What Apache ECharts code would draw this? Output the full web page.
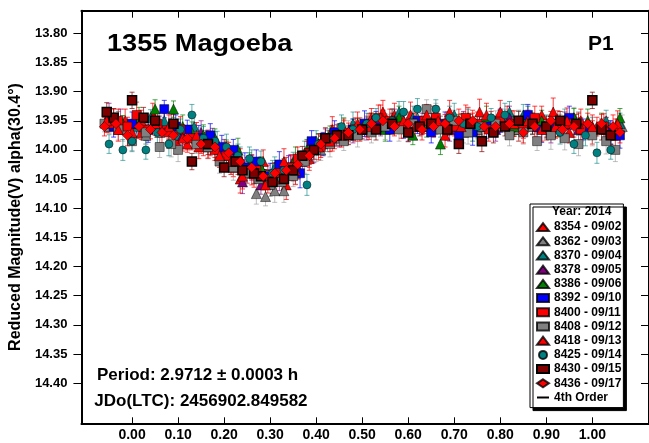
<!DOCTYPE html>
<html><head><meta charset="utf-8">
<script src="https://cdn.jsdelivr.net/npm/echarts@6/dist/echarts.min.js"></script>
<style>html,body{margin:0;padding:0;background:#fff}#c{width:649px;height:443px}</style>
</head><body><div id="c"></div>
<script>
// ---------- data ----------
const titleText = '1355 Magoeba';
const plotId = 'P1';
const periodText = 'Period: 2.9712 \u00b1 0.0003 h';
const jdText = 'JDo(LTC): 2456902.849582';
const yName = 'Reduced Magnitude(V) alpha(30.4\u00b0)';
const legendYear = 'Year: 2014';
const fitName = '4th Order';
const sessionLabels = ['8354 - 09/02','8362 - 09/03','8370 - 09/04','8378 - 09/05','8386 - 09/06','8392 - 09/10','8400 - 09/11','8408 - 09/12','8418 - 09/13','8425 - 09/14','8430 - 09/15','8436 - 09/17'];
const xTicks = [0.0,0.1,0.2,0.3,0.4,0.5,0.6,0.7,0.8,0.9,1.0];
const yTicks = [13.80,13.85,13.90,13.95,14.00,14.05,14.10,14.15,14.20,14.25,14.30,14.35,14.40];

// [phase, reduced mag, error]
const s8354 = [[-0.04,13.945,0.015],[0.02,13.97,0.012],[0.07,13.955,0.018],[0.12,13.99,0.014],[0.17,13.99,0.02],[0.22,14.03,0.016],[0.26,14.04,0.02],[0.31,14.045,0.022],[0.36,14.03,0.02],[0.41,13.99,0.015],[0.46,13.965,0.018],[0.52,13.945,0.016],[0.57,13.94,0.02],[0.63,13.96,0.014],[0.68,13.975,0.02],[0.73,13.945,0.018],[0.78,13.95,0.016],[0.84,13.965,0.02],[0.89,13.94,0.015],[0.95,13.97,0.018],[1.01,13.96,0.016],[1.05,13.975,0.02],
  [0.045,13.94,0.02],[0.095,13.985,0.022],[0.145,13.995,0.02],[0.235,14.05,0.024],[0.285,14.02,0.02],[0.335,14.06,0.025],[0.385,14.015,0.02],[0.435,13.965,0.022],[0.545,13.935,0.02],[0.605,13.94,0.022],[0.655,13.945,0.02],[0.755,13.935,0.022],[0.815,13.945,0.02],[0.915,13.935,0.024],[0.975,13.95,0.02],[-0.015,13.95,0.02]];
const s8362 = [[-0.05,13.96,0.012],[0.03,13.975,0.015],[0.09,13.965,0.014],[0.14,13.98,0.018],[0.19,14.0,0.015],[0.24,14.03,0.02],[0.27,14.075,0.018],[0.29,14.08,0.016],[0.33,14.07,0.02],[0.38,14.01,0.016],[0.44,13.98,0.014],[0.50,13.965,0.018],[0.56,13.955,0.016],[0.62,13.945,0.02],[0.69,13.96,0.015],[0.75,13.965,0.016],[0.81,13.95,0.02],[0.87,13.96,0.014],[0.93,13.955,0.016],[0.99,13.965,0.018],[1.04,13.97,0.02],
  [-0.02,13.965,0.02],[0.06,13.97,0.018],[0.165,13.995,0.02],[0.215,14.02,0.022],[0.31,14.07,0.02],[0.355,14.04,0.02],[0.41,14.0,0.018],[0.47,13.97,0.02],[0.59,13.95,0.018],[0.66,13.94,0.02],[0.72,13.97,0.018],[0.84,13.965,0.02],[0.96,13.945,0.018],[1.065,13.96,0.02]];
const s8370 = [[-0.03,13.95,0.016],[0.04,13.945,0.014],[0.10,13.975,0.016],[0.16,13.985,0.018],[0.21,14.01,0.016],[0.26,14.02,0.02],[0.31,14.03,0.018],[0.35,14.02,0.016],[0.40,13.985,0.018],[0.45,13.97,0.014],[0.51,13.96,0.016],[0.58,13.935,0.018],[0.64,13.95,0.015],[0.70,13.94,0.02],[0.76,13.96,0.016],[0.82,13.935,0.018],[0.88,13.955,0.016],[0.94,13.95,0.02],[1.00,13.96,0.016],[1.06,13.955,0.018],
  [0.01,13.96,0.02],[0.07,13.95,0.018],[0.135,13.96,0.02],[0.185,13.99,0.022],[0.235,14.015,0.02],[0.285,14.04,0.022],[0.375,14.005,0.02],[0.425,13.985,0.018],[0.48,13.955,0.02],[0.545,13.95,0.018],[0.61,13.945,0.02],[0.67,13.96,0.018],[0.73,13.95,0.02],[0.85,13.94,0.018],[0.97,13.955,0.02],[1.03,13.95,0.018]];
const s8378 = [[-0.05,13.94,0.02],[0.01,13.955,0.016],[0.06,13.96,0.018],[0.11,13.975,0.016],[0.15,13.97,0.02],[0.20,14.0,0.018],[0.24,14.055,0.02],[0.28,14.06,0.016],[0.32,14.05,0.02],[0.37,14.02,0.018],[0.42,13.98,0.016],[0.48,13.97,0.018],[0.54,13.96,0.016],[0.60,13.965,0.02],[0.66,13.955,0.018],[0.72,13.95,0.016],[0.79,13.965,0.02],[0.85,13.955,0.016],[0.91,13.97,0.018],[0.97,13.965,0.02],[1.03,13.96,0.016],
  [-0.025,13.95,0.02],[0.035,13.965,0.018],[0.085,13.955,0.02],[0.175,13.985,0.022],[0.22,14.015,0.02],[0.26,14.03,0.022],[0.345,14.03,0.02],[0.395,14.0,0.022],[0.45,13.975,0.02],[0.51,13.965,0.018],[0.57,13.95,0.02],[0.63,13.955,0.018],[0.69,13.965,0.02],[0.755,13.955,0.018],[0.82,13.945,0.02],[0.88,13.96,0.018],[0.94,13.955,0.02],[1.055,13.965,0.018]];
const s8386 = [[-0.02,13.955,0.014],[0.05,13.93,0.016],[0.09,13.93,0.014],[0.13,13.97,0.018],[0.18,13.98,0.016],[0.23,14.0,0.02],[0.28,14.03,0.018],[0.33,14.035,0.016],[0.38,14.0,0.018],[0.43,13.975,0.016],[0.49,13.96,0.014],[0.55,13.965,0.02],[0.61,13.975,0.016],[0.67,13.99,0.018],[0.71,13.955,0.016],[0.77,13.945,0.02],[0.83,13.96,0.016],[0.89,13.95,0.018],[0.96,13.945,0.016],[1.02,13.955,0.018],[1.06,13.945,0.016],
  [0.015,13.945,0.018],[0.11,13.96,0.02],[0.155,13.975,0.018],[0.205,14.005,0.022],[0.255,14.025,0.02],[0.305,14.045,0.022],[0.355,14.015,0.02],[0.405,13.99,0.018],[0.46,13.965,0.02],[0.52,13.955,0.018],[0.58,13.945,0.02],[0.64,13.96,0.018],[0.74,13.965,0.02],[0.80,13.95,0.018],[0.86,13.945,0.02],[0.925,13.96,0.018],[0.99,13.95,0.02]];
const s8392 = [[-0.04,13.96,0.018],[0.07,13.93,0.015],[0.12,13.965,0.016],[0.17,13.975,0.02],[0.22,14.0,0.018],[0.27,14.02,0.02],[0.30,14.045,0.022],[0.34,14.03,0.02],[0.39,13.985,0.018],[0.44,13.97,0.02],[0.48,13.965,0.018],[0.53,13.95,0.016],[0.59,13.96,0.02],[0.65,13.97,0.018],[0.71,13.975,0.016],[0.77,13.96,0.02],[0.86,13.94,0.018],[0.92,13.955,0.016],[0.98,13.965,0.018],[1.04,13.97,0.02],
  [0.0,13.955,0.02],[0.035,13.965,0.022],[0.095,13.96,0.02],[0.145,13.98,0.022],[0.195,13.995,0.02],[0.245,14.03,0.025],[0.32,14.025,0.022],[0.365,14.04,0.025],[0.415,13.99,0.02],[0.505,13.955,0.022],[0.56,13.965,0.02],[0.62,13.95,0.022],[0.68,13.955,0.02],[0.74,13.97,0.022],[0.80,13.95,0.02],[0.89,13.965,0.022],[0.95,13.945,0.02],[1.06,13.975,0.022]];
const s8400 = [[-0.05,13.955,0.014],[-0.01,13.96,0.016],[0.03,13.965,0.018],[0.08,13.97,0.016],[0.13,13.98,0.02],[0.18,14.0,0.018],[0.23,14.02,0.022],[0.27,14.035,0.02],[0.32,14.04,0.022],[0.36,14.015,0.02],[0.41,13.995,0.018],[0.46,13.97,0.02],[0.51,13.96,0.018],[0.56,13.95,0.02],[0.61,13.955,0.018],[0.66,13.945,0.02],[0.70,13.96,0.016],[0.75,13.955,0.02],[0.80,13.95,0.018],[0.85,13.96,0.02],[0.90,13.965,0.018],[0.95,13.955,0.016],[1.00,13.97,0.02],[1.05,13.965,0.018],
  [-0.03,13.95,0.02],[0.01,13.94,0.022],[0.055,13.955,0.02],[0.105,13.965,0.022],[0.155,13.99,0.02],[0.205,14.01,0.024],[0.25,14.035,0.022],[0.295,14.05,0.024],[0.345,14.03,0.022],[0.385,14.005,0.02],[0.435,13.98,0.022],[0.485,13.965,0.02],[0.535,13.945,0.022],[0.585,13.96,0.02],[0.635,13.95,0.022],[0.685,13.955,0.02],[0.725,13.945,0.022],[0.775,13.965,0.02],[0.825,13.955,0.022],[0.875,13.945,0.02],[0.925,13.955,0.022],[0.975,13.965,0.02],[1.025,13.96,0.022]];
const s8408 = [[-0.06,13.955,0.014],[0.00,13.985,0.016],[0.06,13.995,0.018],[0.10,14.0,0.02],[0.14,13.99,0.016],[0.19,14.02,0.02],[0.25,14.04,0.018],[0.30,14.06,0.02],[0.35,14.045,0.018],[0.40,14.0,0.02],[0.46,13.985,0.016],[0.52,13.97,0.018],[0.58,13.965,0.02],[0.64,13.93,0.016],[0.70,13.95,0.018],[0.76,13.96,0.02],[0.82,13.975,0.018],[0.88,13.985,0.016],[0.94,13.98,0.02],[1.00,13.975,0.018],[1.05,14.0,0.02],
  [-0.03,13.965,0.018],[0.03,13.97,0.02],[0.085,13.99,0.022],[0.165,13.995,0.02],[0.22,14.03,0.022],[0.275,14.05,0.024],[0.325,14.055,0.022],[0.375,14.02,0.02],[0.43,13.99,0.022],[0.49,13.975,0.02],[0.55,13.96,0.022],[0.61,13.955,0.02],[0.67,13.965,0.022],[0.73,13.97,0.02],[0.79,13.955,0.022],[0.85,13.97,0.02],[0.91,13.975,0.024],[0.97,13.99,0.02],[1.03,13.985,0.022]];
const s8418 = [[-0.03,13.965,0.02],[0.02,13.95,0.018],[0.08,13.96,0.02],[0.14,13.975,0.022],[0.19,14.01,0.02],[0.24,14.045,0.022],[0.29,14.06,0.02],[0.33,14.02,0.022],[0.38,14.005,0.02],[0.43,13.985,0.018],[0.49,13.955,0.02],[0.54,13.945,0.022],[0.59,13.95,0.02],[0.64,13.94,0.018],[0.69,13.935,0.02],[0.74,13.955,0.018],[0.80,13.935,0.02],[0.86,13.95,0.018],[0.92,13.96,0.02],[0.97,13.955,0.018],[1.03,13.965,0.02],
  [-0.055,13.95,0.02],[0.0,13.97,0.022],[0.05,13.955,0.02],[0.11,13.98,0.022],[0.165,13.99,0.024],[0.215,14.02,0.022],[0.265,14.04,0.024],[0.31,14.05,0.022],[0.355,14.035,0.024],[0.405,13.995,0.022],[0.455,13.975,0.02],[0.515,13.96,0.022],[0.565,13.95,0.02],[0.615,13.96,0.022],[0.665,13.95,0.02],[0.715,13.96,0.022],[0.77,13.94,0.02],[0.83,13.955,0.022],[0.89,13.965,0.02],[0.945,13.95,0.022],[1.0,13.96,0.02],[1.055,13.955,0.022]];
const s8425 = [[-0.05,13.99,0.016],[-0.02,14.0,0.018],[0.03,14.0,0.016],[0.08,13.99,0.02],[0.13,13.94,0.018],[0.18,13.985,0.016],[0.23,14.01,0.02],[0.28,14.02,0.018],[0.33,14.035,0.02],[0.38,14.06,0.018],[0.43,13.98,0.016],[0.48,13.965,0.018],[0.53,13.945,0.016],[0.59,13.935,0.018],[0.66,13.93,0.016],[0.72,13.955,0.018],[0.78,13.945,0.016],[0.84,13.95,0.018],[0.90,13.96,0.02],[0.96,13.99,0.016],[1.01,14.005,0.018],[1.04,14.0,0.016],
  [0.0,13.985,0.018],[0.055,13.97,0.02],[0.105,13.965,0.018],[0.155,13.98,0.02],[0.205,13.995,0.022],[0.255,14.015,0.02],[0.305,14.04,0.022],[0.355,14.03,0.02],[0.405,13.99,0.018],[0.455,13.96,0.02],[0.51,13.955,0.018],[0.565,13.95,0.02],[0.62,13.93,0.018],[0.69,13.945,0.02],[0.75,13.96,0.018],[0.81,13.94,0.02],[0.87,13.955,0.018],[0.93,13.97,0.02],[0.985,13.975,0.018]];
const s8430 = [[-0.04,13.945,0.016],[0.00,13.915,0.014],[0.05,13.95,0.016],[0.13,14.02,0.014],[0.20,14.03,0.016],[0.24,14.035,0.018],[0.28,14.045,0.016],[0.33,14.05,0.018],[0.37,14.01,0.016],[0.42,13.98,0.018],[0.47,13.975,0.016],[0.53,13.965,0.018],[0.60,13.97,0.016],[0.65,13.955,0.018],[0.71,13.99,0.016],[0.76,13.985,0.018],[0.81,13.96,0.016],[0.87,13.955,0.018],[0.93,13.95,0.016],[1.00,13.915,0.014],[1.04,13.975,0.016],
  [-0.055,13.935,0.016],[0.025,13.945,0.018],[0.09,13.955,0.016],[0.165,13.99,0.018],[0.225,14.02,0.016],[0.265,14.04,0.018],[0.305,14.055,0.02],[0.35,14.035,0.018],[0.395,14.0,0.016],[0.445,13.975,0.018],[0.5,13.965,0.016],[0.565,13.955,0.018],[0.625,13.96,0.016],[0.685,13.965,0.018],[0.735,13.955,0.016],[0.785,13.97,0.018],[0.84,13.95,0.016],[0.9,13.96,0.018],[0.965,13.955,0.016],[1.02,13.965,0.018]];
const s8436 = [[-0.06,13.96,0.016],[-0.01,13.975,0.018],[0.04,13.965,0.016],[0.09,13.975,0.018],[0.15,13.99,0.016],[0.21,14.005,0.018],[0.26,14.03,0.02],[0.31,14.04,0.018],[0.36,14.025,0.02],[0.41,13.99,0.018],[0.47,13.97,0.016],[0.52,13.955,0.018],[0.57,13.96,0.016],[0.63,13.965,0.018],[0.68,13.955,0.016],[0.74,13.95,0.018],[0.79,13.96,0.016],[0.85,13.97,0.018],[0.91,13.95,0.016],[0.96,13.96,0.018],[1.02,13.955,0.016],[1.06,13.97,0.018],
  [-0.035,13.955,0.018],[0.015,13.96,0.02],[0.065,13.97,0.018],[0.12,13.98,0.02],[0.18,13.995,0.018],[0.235,14.02,0.022],[0.285,14.045,0.02],[0.335,14.035,0.022],[0.385,14.01,0.02],[0.44,13.98,0.018],[0.495,13.965,0.02],[0.545,13.95,0.018],[0.6,13.955,0.02],[0.655,13.96,0.018],[0.71,13.95,0.02],[0.765,13.96,0.018],[0.82,13.955,0.02],[0.875,13.96,0.018],[0.935,13.965,0.02],[0.99,13.955,0.018],[1.045,13.96,0.02]];
const sessions = [s8354,s8362,s8370,s8378,s8386,s8392,s8400,s8408,s8418,s8425,s8430,s8436];

const fitPhase = [-0.06,0.00,0.05,0.10,0.15,0.20,0.25,0.30,0.35,0.40,0.45,0.50,0.55,0.60,0.65,0.70,0.75,0.80,0.85,0.90,0.95,1.00,1.06];
const fitMag   = [13.955,13.958,13.962,13.972,13.985,14.005,14.025,14.035,14.025,14.000,13.975,13.960,13.955,13.952,13.955,13.958,13.958,13.955,13.953,13.955,13.960,13.962,13.965];

// ---------- styles ----------
const FONT = 'Liberation Sans, Arial, sans-serif';
const markStyles = [
  {symbol:'triangle', color:'#FF0000', err:'rgba(255,0,0,0.75)', size:10},
  {symbol:'triangle', color:'#808080', err:'rgba(150,150,150,0.6)', size:10},
  {symbol:'triangle', color:'#008080', err:'rgba(0,128,128,0.6)', size:10},
  {symbol:'triangle', color:'#800080', err:'rgba(128,0,128,0.65)', size:10},
  {symbol:'triangle', color:'#008000', err:'rgba(0,128,0,0.7)', size:10},
  {symbol:'rect', color:'#0000FF', err:'rgba(0,0,255,0.7)', size:9},
  {symbol:'rect', color:'#FF0000', err:'rgba(255,0,0,0.75)', size:9},
  {symbol:'rect', color:'#808080', err:'rgba(150,150,150,0.6)', size:9},
  {symbol:'triangle', color:'#FF0000', err:'rgba(255,0,0,0.75)', size:10},
  {symbol:'circle', color:'#008080', err:'rgba(0,128,128,0.6)', size:8},
  {symbol:'rect', color:'#800000', err:'rgba(128,0,0,0.7)', size:9, border:'#000', bw:1.5},
  {symbol:'diamond', color:'#FF0000', err:'rgba(255,0,0,0.75)', size:10}
];

function errRender(color){
  return function(params, api){
    const x = api.value(0), y = api.value(1), e = api.value(2);
    const a = api.coord([x, y - e]), b = api.coord([x, y + e]);
    const hw = 2.5;
    const st = {stroke: color, lineWidth: 1};
    return {type:'group', children:[
      {type:'line', shape:{x1:a[0],y1:a[1],x2:b[0],y2:b[1]}, style:st},
      {type:'line', shape:{x1:a[0]-hw,y1:a[1],x2:a[0]+hw,y2:a[1]}, style:st},
      {type:'line', shape:{x1:b[0]-hw,y1:b[1],x2:b[0]+hw,y2:b[1]}, style:st}
    ]};
  };
}

const X_MIN = -0.110, X_MAX = 1.1231, Y_MIN = 13.7612, Y_MAX = 14.469;

const series = [];
series.push({
  type:'line', name: fitName, data: fitPhase.map((p,i)=>[p, fitMag[i]]),
  smooth: 0.4, symbol:'none', lineStyle:{color:'#000', width:1.5}, itemStyle:{color:'#000'}, z:1, silent:true
});
sessions.forEach((d, i) => {
  const s = markStyles[i];
  series.push({
    type:'custom', name:'err' + i, data: d, renderItem: errRender(s.err),
    encode:{x:0, y:1}, silent:true, z:2
  });
  series.push({
    type:'scatter', name: sessionLabels[i], data: d.map(r => [r[0], r[1]]),
    symbol: s.symbol, symbolSize: s.size,
    itemStyle:{color: s.color, borderColor: s.border || 'rgba(0,0,0,0.8)', borderWidth: s.bw || 0.6, opacity:1},
    z:2, silent:true
  });
});

const axisLineStyle = {color:'#000', width:2};
const legendData = sessionLabels.map(n => ({name:n}));
legendData.push({name: fitName, itemStyle:{color:'rgba(0,0,0,0)', borderWidth:0, opacity:0}, lineStyle:{color:'#000', width:2}});

const chart = echarts.init(document.getElementById('c'), null, {renderer:'canvas'});
chart.setOption({
  animation:false,
  backgroundColor:'#fff',
  grid:{left:80.7, top:10.7, right:-3, bottom:19.7, containLabel:false},
  xAxis:[{
    type:'value', position:'bottom', min:X_MIN, max:X_MAX,
    axisLine:{show:true, onZero:false, lineStyle:axisLineStyle},
    axisTick:{show:true, inside:true, length:6, customValues:xTicks, lineStyle:{color:'#000', width:1}},
    axisLabel:{show:true, customValues:xTicks, formatter:v=>v.toFixed(2), fontSize:14, fontWeight:'bold', fontFamily:FONT, color:'#000', margin:5},
    splitLine:{show:false}
  },{
    type:'value', position:'top', min:X_MIN, max:X_MAX,
    axisLine:{show:true, onZero:false, lineStyle:axisLineStyle},
    axisTick:{show:true, inside:true, length:7, customValues:xTicks, lineStyle:{color:'#000', width:1}},
    axisLabel:{show:false}, splitLine:{show:false}
  }],
  yAxis:[{
    type:'value', position:'left', inverse:true, min:Y_MIN, max:Y_MAX,
    name:yName, nameLocation:'middle', nameGap:47,
    nameTextStyle:{fontSize:16, fontWeight:'bold', fontFamily:FONT, color:'#000'},
    axisLine:{show:true, onZero:false, lineStyle:axisLineStyle},
    axisTick:{show:true, inside:false, length:8, customValues:yTicks, lineStyle:{color:'#000', width:1}},
    axisLabel:{show:true, customValues:yTicks, formatter:v=>v.toFixed(2), fontSize:13, fontWeight:'bold', fontFamily:FONT, color:'#000', margin:14},
    splitLine:{show:false}
  },{
    type:'value', position:'right', inverse:true, min:Y_MIN, max:Y_MAX,
    axisLine:{show:true, onZero:false, lineStyle:axisLineStyle},
    axisTick:{show:true, inside:true, length:8, customValues:yTicks, lineStyle:{color:'#000', width:1}},
    axisLabel:{show:false}, splitLine:{show:false}
  }],
  legend:{
    orient:'vertical', left:530, top:204, padding:[16,2,3,6], itemGap:0,
    itemWidth:12, itemHeight:8, selectedMode:false,
    backgroundColor:'#fff', borderColor:'#000', borderWidth:1,
    shadowColor:'#000', shadowOffsetX:3, shadowOffsetY:3, shadowBlur:0,
    textStyle:{fontSize:12, fontWeight:'bold', fontFamily:FONT, color:'#000', lineHeight:14.2},
    data: legendData
  },
  graphic:[
    {type:'text', x:107, y:44.5, scaleX:1.13, z:100, style:{text:titleText, font:'bold 24px ' + FONT, fill:'#000', align:'left', verticalAlign:'middle'}},
    {type:'text', x:588, y:44.5, z:100, style:{text:plotId, font:'bold 21px ' + FONT, fill:'#000', align:'left', verticalAlign:'middle'}},
    {type:'text', x:97, y:375.5, z:100, style:{text:periodText, font:'bold 17px ' + FONT, fill:'#000', align:'left', verticalAlign:'middle'}},
    {type:'text', x:94.3, y:401.2, z:100, style:{text:jdText, font:'bold 17px ' + FONT, fill:'#000', align:'left', verticalAlign:'middle'}},
    {type:'text', x:552, y:211.7, z:100, style:{text:legendYear, font:'bold 12px ' + FONT, fill:'#000', align:'left', verticalAlign:'middle'}}
  ],
  series: series
});
</script></body></html>
